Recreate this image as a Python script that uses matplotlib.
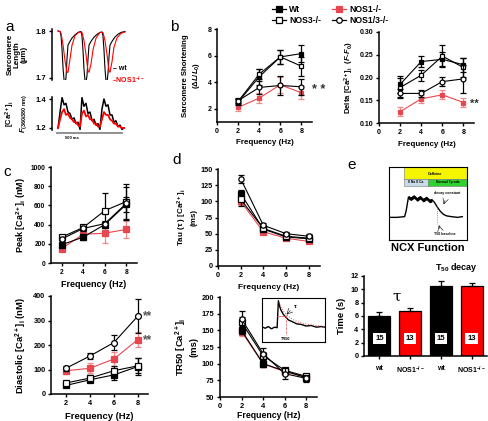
import numpy as np
import matplotlib
matplotlib.use("Agg")
import matplotlib.pyplot as plt
from matplotlib.lines import Line2D
from matplotlib.patches import Rectangle

plt.rcParams['font.family'] = ['Liberation Sans', 'DejaVu Sans']
plt.rcParams['font.weight'] = 'bold'
plt.rcParams['mathtext.fontset'] = 'custom'
plt.rcParams['mathtext.rm'] = 'Liberation Sans:bold'
plt.rcParams['mathtext.it'] = 'Liberation Sans:bold:italic'
plt.rcParams['mathtext.bf'] = 'Liberation Sans:bold'

W, H = 489, 421
RED = '#e8474f'
RED_ERR = '#f08a8a'

# ---------------- data ----------------
freq = [2, 4, 6, 8]
groups = ['Wt', 'NOS1-/-', 'NOS3-/-', 'NOS1/3-/-']

short_mean = {'Wt': [2.5, 4.4, 5.9, 6.15], 'NOS1-/-': [2.1, 2.8, 3.8, 3.2],
              'NOS3-/-': [2.55, 4.6, 5.9, 5.2], 'NOS1/3-/-': [2.6, 3.6, 3.75, 3.65]}
short_err = {'Wt': [0.2, 0.6, 0.5, 0.65], 'NOS1-/-': [0.3, 0.4, 0.6, 0.5],
             'NOS3-/-': [0.2, 0.4, 0.5, 0.7], 'NOS1/3-/-': [0.2, 0.5, 0.7, 0.6]}

delta_mean = {'Wt': [0.185, 0.235, 0.240, 0.228], 'NOS1-/-': [0.125, 0.153, 0.162, 0.145],
              'NOS3-/-': [0.178, 0.205, 0.247, 0.222], 'NOS1/3-/-': [0.165, 0.165, 0.191, 0.197]}
delta_err = {'Wt': [0.018, 0.012, 0.015, 0.015], 'NOS1-/-': [0.01, 0.008, 0.01, 0.01],
             'NOS3-/-': [0.02, 0.012, 0.025, 0.02], 'NOS1/3-/-': [0.01, 0.008, 0.01, 0.03]}

peak_mean = {'Wt': [190, 270, 400, 610], 'NOS1-/-': [150, 300, 310, 350],
             'NOS3-/-': [270, 370, 545, 640], 'NOS1/3-/-': [250, 360, 410, 620]}
peak_err = {'Wt': [20, 30, 30, 80], 'NOS1-/-': [15, 40, 100, 90],
            'NOS3-/-': [25, 30, 180, 180], 'NOS1/3-/-': [20, 30, 30, 170]}

diast_mean = {'Wt': [35, 58, 78, 112], 'NOS1-/-': [95, 105, 143, 222],
              'NOS3-/-': [45, 65, 95, 115], 'NOS1/3-/-': [105, 155, 210, 318]}
diast_err = {'Wt': [8, 10, 20, 35], 'NOS1-/-': [15, 20, 30, 30],
             'NOS3-/-': [10, 12, 20, 30], 'NOS1/3-/-': [10, 12, 30, 70]}

tau_mean = {'Wt': [112, 57, 45, 42], 'NOS1-/-': [100, 53, 43, 38],
            'NOS3-/-': [103, 58, 46, 43], 'NOS1/3-/-': [135, 63, 50, 46]}
tau_err = {'Wt': [5, 3, 3, 3], 'NOS1-/-': [6, 3, 3, 3],
           'NOS3-/-': [10, 3, 3, 3], 'NOS1/3-/-': [6, 3, 3, 3]}

tr50_mean = {'Wt': [150, 100, 89, 79], 'NOS1-/-': [148, 100, 88, 80],
             'NOS3-/-': [162, 112, 90, 81], 'NOS1/3-/-': [167, 115, 85, 78]}
tr50_err = {'Wt': [6, 5, 4, 3], 'NOS1-/-': [6, 5, 4, 3],
            'NOS3-/-': [8, 6, 4, 3], 'NOS1/3-/-': [12, 8, 8, 5]}

# panel a traces (time in ms)
sl_t_wt = [0, 16, 24, 32, 40, 48, 56, 63, 71, 79, 95, 111, 135, 159, 183, 190, 198, 206, 214, 222,
           230, 238, 246, 262, 286, 310, 333, 349, 357, 365, 373, 381, 389, 397, 405, 413, 429,
           452, 476, 500, 532]
sl_wt = [1.800, 1.799, 1.790, 1.760, 1.720, 1.695, 1.690, 1.700, 1.740, 1.770, 1.778, 1.785,
         1.792, 1.797, 1.799, 1.790, 1.760, 1.720, 1.695, 1.690, 1.705, 1.740, 1.770, 1.778,
         1.787, 1.793, 1.797, 1.798, 1.790, 1.760, 1.720, 1.693, 1.690, 1.710, 1.745, 1.770,
         1.778, 1.787, 1.793, 1.797, 1.799]
sl_t_ko = [0, 16, 24, 40, 56, 71, 79, 95, 111, 135, 167, 190, 206, 222, 238, 246, 262, 278,
           302, 333, 357, 373, 389, 405, 413, 429, 444, 468, 500, 532]
sl_ko = [1.800, 1.799, 1.795, 1.770, 1.735, 1.712, 1.712, 1.740, 1.770, 1.790, 1.798, 1.797,
         1.780, 1.750, 1.715, 1.712, 1.730, 1.760, 1.785, 1.797, 1.797, 1.780, 1.750, 1.715,
         1.712, 1.735, 1.765, 1.785, 1.795, 1.798]

ca_t = [0, 16, 32, 48, 63, 79, 95, 111, 127, 143, 159, 175, 190, 206, 222, 238, 254, 270, 286,
        302, 317, 333, 349, 365, 381, 397, 413, 429, 444, 460, 476, 492, 508, 524]
ca_wt = [1.20, 1.31, 1.41, 1.36, 1.37, 1.31, 1.30, 1.26, 1.27, 1.23, 1.24, 1.19, 1.41, 1.35,
         1.37, 1.30, 1.31, 1.25, 1.26, 1.22, 1.23, 1.19, 1.33, 1.40, 1.35, 1.36, 1.29, 1.29,
         1.24, 1.25, 1.21, 1.22, 1.19, 1.20]
ca_ko = [1.20, 1.26, 1.31, 1.33, 1.29, 1.30, 1.27, 1.26, 1.24, 1.24, 1.22, 1.21, 1.30, 1.32,
         1.28, 1.29, 1.26, 1.26, 1.23, 1.23, 1.21, 1.21, 1.26, 1.31, 1.29, 1.29, 1.26, 1.25,
         1.23, 1.23, 1.21, 1.21, 1.20, 1.20]

# TR50 inset trace
ins_t = [0, 5, 10, 15, 20, 24, 26, 28, 30, 34, 38, 42, 48, 55, 62, 70, 78, 86, 94, 100]
ins_v = [0.05, 0.00, 0.06, -0.02, 0.04, 0.02, 1.00, 0.80, 0.66, 0.50, 0.40, 0.30, 0.24, 0.16,
         0.14, 0.08, 0.10, 0.04, 0.06, 0.04]
fit_t = [27, 30, 34, 40, 48, 56, 66, 78, 90, 100]
fit_v = [0.95, 0.78, 0.62, 0.46, 0.33, 0.24, 0.17, 0.12, 0.09, 0.07]

# NCX inset trace
ncx_t = [1, 10, 20, 22, 25, 28, 32, 36, 40, 44, 48, 52, 55, 58, 62, 66, 70, 74, 80, 88, 94]
ncx_v = [31, 31, 32, 40, 59, 57, 60, 56, 59, 55, 58, 54, 55, 52, 45, 39, 35, 33, 32, 31, 32]

# panel e bars
bar_labels = ['wt', 'NOS1$^{-/-}$', 'wt', 'NOS1$^{-/-}$']
bar_vals = [6.0, 6.7, 10.5, 10.45]
bar_errs = [0.6, 0.5, 0.8, 0.5]
bar_n = ['15', '13', '15', '13']
bar_colors = ['black', 'red', 'black', 'red']

fig = plt.figure(figsize=(W / 100, H / 100), dpi=100)


def add_ax(x0, y0, x1, y1):
    return fig.add_axes([x0 / W, 1 - y1 / H, (x1 - x0) / W, (y1 - y0) / H])


def style(ax, fs=5.2):
    for s in ['top', 'right']:
        ax.spines[s].set_visible(False)
    for s in ['left', 'bottom']:
        ax.spines[s].set_linewidth(1.1)
    ax.tick_params(labelsize=fs, width=1.0, length=2.5, pad=1.5)
    for lab in ax.get_xticklabels() + ax.get_yticklabels():
        lab.set_fontweight('bold')


styles = {
    'Wt': dict(marker='s', mfc='black', mec='black', color='black', ecolor='black'),
    'NOS1-/-': dict(marker='s', mfc=RED, mec=RED, color=RED, ecolor=RED_ERR),
    'NOS3-/-': dict(marker='s', mfc='white', mec='black', color='black', ecolor='black'),
    'NOS1/3-/-': dict(marker='o', mfc='white', mec='black', color='black', ecolor='black'),
}
order = ['NOS1-/-', 'Wt', 'NOS3-/-', 'NOS1/3-/-']


def plot_groups(ax, means, errs, ms=3.5):
    for i, g in enumerate(order):
        st = styles[g]
        ax.errorbar(freq, means[g], yerr=errs[g], marker=st['marker'], mfc=st['mfc'], mec=st['mec'],
                    color=st['color'], ecolor=st['ecolor'], ms=ms, mew=0.9, lw=0.8, elinewidth=0.9,
                    capsize=2, capthick=0.9, zorder=3 + i, clip_on=False)


# ---------------- panel a ----------------
axa1 = add_ax(52, 29, 127, 80)
axa1.plot(sl_t_wt, sl_wt, color='black', lw=0.8)
axa1.plot(sl_t_ko, sl_ko, color='red', lw=0.8)
axa1.set_xlim(-48, 548)
axa1.set_ylim(1.6957, 1.8043)
axa1.set_yticks([1.7, 1.8])
axa1.set_yticklabels(['1.7', '1.8'])
axa1.set_xticks([])
style(axa1, 5.5)
axa1.spines['bottom'].set_visible(False)
axa1.set_ylabel('Sarcomere\nLength\n(µm)', fontsize=5.8, fontweight='bold', labelpad=6, linespacing=1.0)
axa1.text(0.82, 0.22, '– wt', transform=axa1.transAxes, fontsize=5.0, color='black', va='center')
axa1.text(0.80, 0.0, '–NOS1$^{-/-}$', transform=axa1.transAxes, fontsize=5.0, color='red', va='center')

axa2 = add_ax(52, 97, 127, 130)
axa2.plot(ca_t, ca_wt, color='black', lw=1.1)
axa2.plot(ca_t, ca_ko, color='red', lw=1.3)
axa2.set_xlim(-48, 548)
axa2.set_ylim(1.1862, 1.4138)
axa2.set_yticks([1.2, 1.4])
axa2.set_yticklabels(['1.2', '1.4'])
axa2.set_xticks([])
style(axa2, 5.5)
axa2.spines['bottom'].set_visible(False)
axa2.set_ylabel('[Ca$^{2+}$]$_\\mathrm{i}$\n$F$$_{\\mathrm{(360/380\\ nm)}}$', fontsize=5.5,
                fontweight='bold', labelpad=5, linespacing=1.1)
fig.add_artist(Line2D([57 / W, 122 / W], [1 - 133 / H, 1 - 133 / H], color='#888888', lw=1.3))
fig.text(72 / W, 1 - 138 / H, '500 ms', fontsize=3, ha='center', va='center')

# ---------------- panel b ----------------
axb1 = add_ax(217, 29, 312, 122)
plot_groups(axb1, short_mean, short_err)
axb1.set_xlim(0, 9)
axb1.set_ylim(1, 8)
axb1.set_xticks([0, 2, 4, 6, 8])
axb1.set_yticks([2, 4, 6, 8])
style(axb1, 5.0)
axb1.set_xlabel('Frequency (Hz)', fontsize=5.8, fontweight='bold', labelpad=3)
axb1.set_ylabel('Sarcomere Shortening\n($\\Delta L/L_0$)', fontsize=5.6, fontweight='bold', labelpad=4)
axb1.text(9.0, 3.4, '* *', fontsize=9, color='#333333', va='center', ha='left')

axb2 = add_ax(379, 32, 474, 123)
plot_groups(axb2, delta_mean, delta_err)
axb2.set_xlim(0, 9)
axb2.set_ylim(0.10, 0.30)
axb2.set_xticks([0, 2, 4, 6, 8])
axb2.set_yticks([0.10, 0.15, 0.20, 0.25, 0.30])
axb2.set_yticklabels(['0.10', '0.15', '0.20', '0.25', '0.30'])
style(axb2, 5.0)
axb2.set_xlabel('Frequency (Hz)', fontsize=5.8, fontweight='bold', labelpad=4)
axb2.set_ylabel('Delta [Ca$^{2+}$]$_\\mathrm{i}$  ($F$-$F_0$)', fontsize=5.6, fontweight='bold', labelpad=3)
axb2.text(8.6, 0.143, '**', fontsize=8, color='#333333', va='center', ha='left')

# legend
handles = []
for g in ['Wt', 'NOS3-/-', 'NOS1-/-', 'NOS1/3-/-']:
    st = styles[g]
    handles.append(Line2D([], [], marker=st['marker'], mfc=st['mfc'], mec=st['mec'], color=st['color'],
                          ms=4, mew=0.9, lw=0.9))
fig.legend(handles, ['Wt', 'NOS3-/-', 'NOS1-/-', 'NOS1/3-/-'], ncol=2, loc='upper left',
           bbox_to_anchor=(264 / W, 1 + 3 / H), frameon=False, handlelength=1.6,
           handletextpad=0.4, columnspacing=1.3, labelspacing=0.3, prop={'weight': 'bold', 'size': 6.2})

# ---------------- panel c ----------------
axc1 = add_ax(51, 167, 137, 263)
plot_groups(axc1, peak_mean, peak_err, ms=3.8)
axc1.set_xlim(1, 9)
axc1.set_ylim(0, 1000)
axc1.set_xticks([2, 4, 6, 8])
axc1.set_yticks([0, 200, 400, 600, 800, 1000])
style(axc1, 4.8)
axc1.set_xlabel('Frequency (Hz)', fontsize=6.5, fontweight='bold', labelpad=3)
axc1.set_ylabel('Peak [Ca$^{2+}$]$_\\mathrm{i}$ (nM)', fontsize=6.5, fontweight='bold', labelpad=2)

axc2 = add_ax(51, 296, 148, 394)
plot_groups(axc2, diast_mean, diast_err, ms=4.2)
axc2.set_xlim(0.75, 8.85)
axc2.set_ylim(0, 400)
axc2.set_xticks([2, 4, 6, 8])
axc2.set_yticks([0, 100, 200, 300, 400])
style(axc2, 5.2)
axc2.set_xlabel('Frequency (Hz)', fontsize=6.8, fontweight='bold', labelpad=4)
axc2.set_ylabel('Diastolic [Ca$^{2+}$]$_\\mathrm{i}$ (nM)', fontsize=6.8, fontweight='bold', labelpad=3)
axc2.text(8.4, 318, '**', fontsize=8.5, color='#555555', va='center', ha='left')
axc2.text(8.4, 218, '**', fontsize=8.5, color='#555555', va='center', ha='left')

# ---------------- panel d ----------------
axd1 = add_ax(218, 169, 320, 266)
plot_groups(axd1, tau_mean, tau_err, ms=3.8)
axd1.set_xlim(0, 9)
axd1.set_ylim(0, 150)
axd1.set_xticks([0, 2, 4, 6, 8])
axd1.set_yticks([0, 25, 50, 75, 100, 125, 150])
style(axd1, 5.2)
axd1.set_xlabel('Frequency (Hz)', fontsize=6.0, fontweight='bold', labelpad=4)
axd1.set_ylabel('Tau (τ ) [Ca$^{2+}$]$_\\mathrm{i}$\n(ms)', fontsize=5.8, fontweight='bold', labelpad=2)

axd2 = add_ax(220, 297, 317, 397)
plot_groups(axd2, tr50_mean, tr50_err, ms=3.8)
axd2.set_xlim(0, 9)
axd2.set_ylim(50, 200)
axd2.set_xticks([0, 2, 4, 6, 8])
axd2.set_yticks([50, 75, 100, 125, 150, 175, 200])
style(axd2, 5.4)
axd2.set_xlabel('Frequency (Hz)', fontsize=6.3, fontweight='bold', labelpad=1)
axd2.set_ylabel('TR50 [Ca$^{2+}$]$_\\mathrm{i}$\n(ms)', fontsize=6.8, fontweight='bold', labelpad=2)

axi = add_ax(262, 298, 325, 342)
axi.plot(ins_t, ins_v, color='black', lw=1.0)
axi.plot(fit_t, fit_v, color=RED, lw=0.7, ls=':')
axi.plot([24, 38], [0.45, 0.45], color=RED, lw=0.5)
axi.plot([38, 38], [0.45, -0.25], color=RED, lw=0.5, ls='--')
axi.annotate('', xy=(36, 0.42), xytext=(48, 0.72), arrowprops=dict(arrowstyle='->', lw=0.4))
axi.text(50, 0.74, 'τ', fontsize=4.5)
axi.text(38, -0.33, 'TR50', fontsize=2.8, ha='center', va='top')
axi.set_xlim(0, 100)
axi.set_ylim(-0.5, 1.1)
axi.set_xticks([])
axi.set_yticks([])
for s in axi.spines.values():
    s.set_linewidth(0.8)

# ---------------- panel e ----------------
axe1 = add_ax(389, 167, 467, 240)
axe1.set_xlim(0, 100)
axe1.set_ylim(0, 100)
axe1.add_patch(Rectangle((19, 84), 81, 16, facecolor='#f5f500', edgecolor='#777777', lw=0.4))
axe1.add_patch(Rectangle((19, 74), 31, 10, facecolor='#c8dce6', edgecolor='#777777', lw=0.4))
axe1.add_patch(Rectangle((50, 74), 50, 10, facecolor='#2ed12e', edgecolor='#777777', lw=0.4))
axe1.text(59, 90, 'Caffeine', fontsize=2.6, ha='center', va='center')
axe1.text(34, 79, '0 Na 0 Ca', fontsize=2.4, ha='center', va='center')
axe1.text(75, 79, 'Normal Tyrode', fontsize=2.4, ha='center', va='center')
axe1.plot(ncx_t, ncx_v, color='black', lw=1.0)
axe1.fill_between(ncx_t[4:13], [v - 3 for v in ncx_v[4:13]], [v + 2 for v in ncx_v[4:13]],
                  color='black', lw=0)
axe1.plot([62, 62], [47, 22], color=RED, lw=0.6, ls=':')
axe1.text(75, 64, 'decay constant', fontsize=2.6, ha='center', va='center')
axe1.annotate('', xy=(69, 45), xytext=(73, 58), arrowprops=dict(arrowstyle='->', lw=0.4))
axe1.text(72, 8, 'T50 baseline', fontsize=2.6, ha='center', va='center')
axe1.annotate('', xy=(63, 24), xytext=(66, 12), arrowprops=dict(arrowstyle='->', lw=0.4))
axe1.set_xticks([])
axe1.set_yticks([])
for s in axe1.spines.values():
    s.set_linewidth(0.8)
fig.text(428 / W, 1 - 248 / H, 'NCX Function', fontsize=8, fontweight='bold', ha='center', va='center')

axe2 = add_ax(364, 276, 487, 356)
xpos = np.arange(len(bar_vals))
axe2.bar(xpos, bar_vals, width=0.72, color=bar_colors, edgecolor='black', lw=0.9,
         yerr=[[0] * 4, bar_errs], error_kw=dict(ecolor='black', elinewidth=0.9, capsize=2.5, capthick=0.9))
for x, n in zip(xpos, bar_n):
    axe2.text(x, 2.6, n, fontsize=5.5, fontweight='bold', ha='center', va='center',
              bbox=dict(boxstyle='square,pad=0.25', facecolor='white', edgecolor='none'))
axe2.set_xlim(-0.5, 3.5)
axe2.set_ylim(0, 12)
axe2.set_yticks([0, 2, 4, 6, 8, 10, 12])
axe2.set_xticks(xpos)
axe2.set_xticklabels(bar_labels)
style(axe2, 5.2)
axe2.tick_params(axis='x', labelsize=5.0, pad=4)
axe2.set_ylabel('Time (s)', fontsize=6.8, fontweight='bold', labelpad=3)
axe2.text(0.55, 8.9, 'τ', fontsize=11, ha='center', va='center', family='DejaVu Serif', fontweight='normal')
fig.text(456 / W, 1 - 267 / H, 'T$_{50}$ decay', fontsize=6.5, fontweight='bold', ha='center', va='center')

# panel letters
for lab, x, y in [('a', 5, 27), ('b', 170, 27), ('c', 3, 172), ('d', 172, 160), ('e', 347, 165)]:
    fig.text(x / W, 1 - y / H, lab, fontsize=11, fontweight='normal', ha='left', va='center')

fig.savefig('out.png', dpi=100)
